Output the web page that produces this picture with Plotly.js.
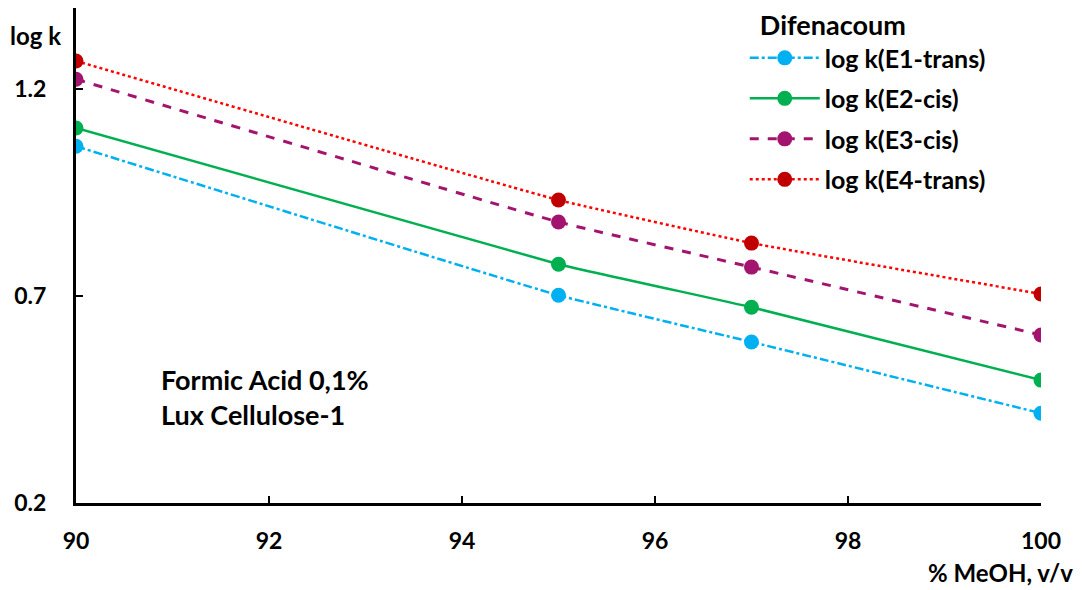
<!DOCTYPE html>
<html>
<head>
<meta charset="utf-8">
<script src="https://cdn.plot.ly/plotly-3.0.1.min.js"></script>
<style>html,body{margin:0;padding:0;background:#fff;}#chart{width:1082px;height:590px;}</style>
</head>
<body>
<div id="chart"></div>
<script>
const meohPercent = [90, 95, 97, 100];
const logkE1 = [1.062, 0.702, 0.589, 0.417];
const logkE2 = [1.106, 0.777, 0.673, 0.497];
const logkE3 = [1.224, 0.879, 0.770, 0.606];
const logkE4 = [1.268, 0.932, 0.828, 0.705];
const seriesNames = ['log k(E1-trans)', 'log k(E2-cis)', 'log k(E3-cis)', 'log k(E4-trans)'];
const yTicks = [0.2, 0.7, 1.2];
const xTicks = [90, 92, 94, 96, 98, 100];

const FONT = 'Lato, "Open Sans", "Noto Sans", sans-serif';
function tr(y, name, lineColor, markerColor, dash, width, grp) {
  return {
    x: meohPercent, y: y, name: name, type: 'scatter', mode: 'lines+markers',
    legendgroup: grp,
    line: {color: lineColor, dash: dash, width: width, shape: 'spline', smoothing: 0.3},
    marker: {color: markerColor, size: 15, symbol: 'circle'}
  };
}
const data = [
  tr(logkE1, seriesNames[0], '#00B0F0', '#00B0F0', 'dashdot', 2.5, 'a'),
  tr(logkE2, seriesNames[1], '#00B050', '#00B050', 'solid', 2.5, 'b'),
  tr(logkE3, seriesNames[2], '#A2146E', '#A2146E', 'dash', 3, 'c'),
  tr(logkE4, seriesNames[3], '#FF0000', '#C00000', 'dot', 2.5, 'd')
];
const layout = {
  width: 1082, height: 590,
  margin: {l: 76, r: 41, t: 0, b: 87},
  paper_bgcolor: '#fff', plot_bgcolor: '#fff',
  font: {family: FONT, size: 23, color: '#000', weight: 'bold'},
  showlegend: true,
  legend: {
    x: 0.693, y: 1.0, xanchor: 'left', yanchor: 'top',
    title: {text: '<b>\u00a0\u00a0Difenacoum</b>', font: {size: 27, family: FONT}},
    font: {size: 25, family: FONT},
    traceorder: 'grouped', tracegroupgap: 5, itemwidth: 70,
    bgcolor: 'rgba(0,0,0,0)'
  },
  xaxis: {
    range: [90, 100], tickvals: xTicks, ticktext: xTicks.map(String),
    showgrid: false, zeroline: false, showline: true, linecolor: '#000', linewidth: 3,
    ticks: 'inside', ticklen: 7, tickwidth: 2, tickcolor: '#000',
    tickfont: {size: 23, family: FONT, weight: 'bold'}, ticklabelstandoff: 15
  },
  yaxis: {
    domain: [0, 495 / 503],
    range: [0.2, 1.396], tickvals: yTicks, ticktext: yTicks.map(String),
    showgrid: false, zeroline: false, showline: true, linecolor: '#000', linewidth: 3,
    ticks: 'inside', ticklen: 7, tickwidth: 2, tickcolor: '#000',
    tickfont: {size: 23, family: FONT, weight: 'bold'}, ticklabelstandoff: 22
  },
  annotations: [
    {xref: 'paper', yref: 'paper', x: -0.07, y: 0.930, xanchor: 'left', yanchor: 'middle',
     text: '<b>log k</b>', showarrow: false, font: {size: 24, family: FONT}},
    {xref: 'paper', yref: 'paper', x: 1.035, y: -0.139, xanchor: 'right', yanchor: 'middle',
     text: '<b>% MeOH, v/v</b>', showarrow: false, font: {size: 24, family: FONT}},
    {xref: 'paper', yref: 'paper', x: 0.086, y: 0.211, xanchor: 'left', yanchor: 'middle', align: 'left',
     text: '<b>Formic Acid 0,1%</b><br><b>Lux Cellulose-1</b>', showarrow: false,
     font: {size: 27, family: FONT}}
  ]
};
Plotly.newPlot('chart', data, layout, {displayModeBar: false, staticPlot: true});
</script>
</body>
</html>
